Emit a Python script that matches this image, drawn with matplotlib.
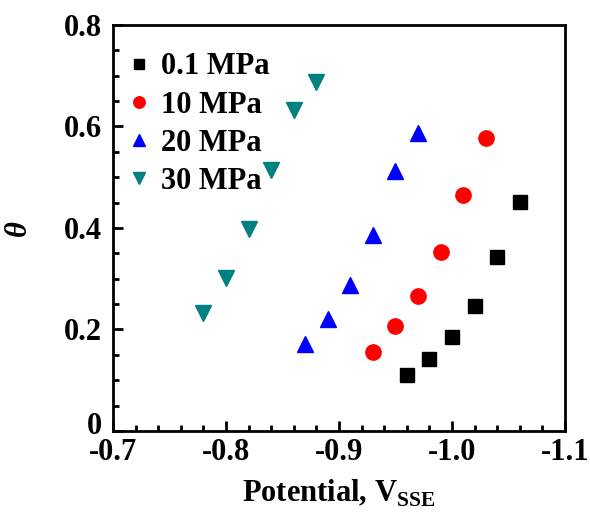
import matplotlib
matplotlib.use('Agg')
import matplotlib.pyplot as plt
import matplotlib.transforms as mtransforms
from matplotlib.ticker import MultipleLocator, FixedLocator, FixedFormatter

plt.rcParams['font.family'] = 'Liberation Serif'
plt.rcParams['font.weight'] = 'bold'
plt.rcParams['mathtext.fontset'] = 'custom'
plt.rcParams['mathtext.bf'] = 'Liberation Serif:bold'
plt.rcParams['mathtext.rm'] = 'Liberation Serif:bold'

# potential (V vs SSE) and coverage theta for each pressure
pot_01 = [-0.96, -0.98, -1.00, -1.02, -1.04, -1.06]
theta_01 = [0.110, 0.141, 0.186, 0.247, 0.343, 0.452]
pot_10 = [-0.93, -0.95, -0.97, -0.99, -1.01, -1.03]
theta_10 = [0.155, 0.206, 0.265, 0.353, 0.465, 0.577]
pot_20 = [-0.87, -0.89, -0.91, -0.93, -0.95, -0.97]
theta_20 = [0.172, 0.220, 0.288, 0.387, 0.512, 0.586]
pot_30 = [-0.78, -0.80, -0.82, -0.84, -0.86, -0.88]
theta_30 = [0.233, 0.302, 0.398, 0.514, 0.632, 0.688]

x_ticks = [-0.7, -0.8, -0.9, -1.0, -1.1]
x_labels = ['-0.7', '-0.8', '-0.9', '-1.0', '-1.1']
y_ticks = [0, 0.2, 0.4, 0.6, 0.8]
y_labels = ['0', '0.2', '0.4', '0.6', '0.8']

fig = plt.figure(figsize=(5.9, 5.18), dpi=100)
ax = fig.add_axes([0.1915, 0.168, 0.766, 0.784])

ms = 11
ax.plot(pot_01, theta_01, 's', color='black', ms=ms - 1, label='0.1 MPa')
ax.plot(pot_10, theta_10, 'o', color='red', ms=ms, label='10 MPa')
ax.plot(pot_20, theta_20, '^', color='blue', ms=ms + 1, label='20 MPa')
ax.plot(pot_30, theta_30, 'v', color='#008080', ms=ms + 1, label='30 MPa')

ax.set_xlim(-0.7, -1.1)
ax.set_ylim(0, 0.8)
ax.xaxis.set_major_locator(FixedLocator(x_ticks))
ax.xaxis.set_major_formatter(FixedFormatter(x_labels))
ax.yaxis.set_major_locator(FixedLocator(y_ticks))
ax.yaxis.set_major_formatter(FixedFormatter(y_labels))
ax.xaxis.set_minor_locator(MultipleLocator(0.02))
ax.yaxis.set_minor_locator(MultipleLocator(0.05))
ax.tick_params(which='both', direction='in', top=False, right=False,
               width=2, labelsize=22)
ax.tick_params(axis='x', pad=5)
ax.tick_params(axis='y', pad=8)
ax.tick_params(which='major', length=7)
ax.tick_params(which='minor', length=4)
for sp in ax.spines.values():
    sp.set_linewidth(2)

# the "0" label sits a little above the bottom spine in the original
fig.canvas.draw()
zero_lbl = ax.get_yticklabels()[0]
zero_lbl.set_transform(zero_lbl.get_transform() +
                       mtransforms.ScaledTranslation(0, 6 / 72, fig.dpi_scale_trans))

ax.set_xlabel(r'Potential, V$_{\mathbf{SSE}}$', fontsize=22, fontweight='bold', labelpad=8)
ax.set_ylabel('θ', fontsize=22, fontweight='bold', fontstyle='italic', labelpad=22)

ax.legend(loc='upper left', bbox_to_anchor=(-0.03, 1.0), frameon=False,
          fontsize=22, handlelength=0.8, handletextpad=0.3, labelspacing=0.3,
          borderaxespad=0.5, borderpad=0.4, markerscale=0.75)

plt.savefig('out.png')
